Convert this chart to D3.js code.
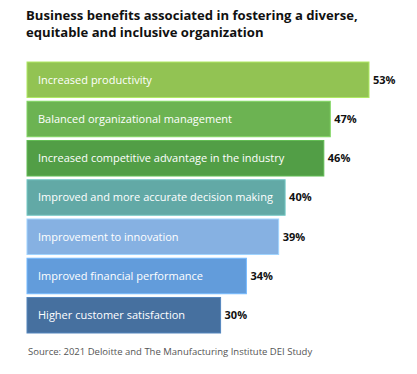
<!DOCTYPE html>
<html>
<head>
<meta charset="utf-8">
<script src="https://cdn.jsdelivr.net/npm/d3@7"></script>
<style>
  body { margin: 0; background: #fff; }
  svg { font-family: "Open Sans", sans-serif; }
</style>
</head>
<body>
<script>
var titleLines = ["Business benefits associated in fostering a diverse,",
                  "equitable and inclusive organization"]
var benefits = ["Increased productivity",
                "Balanced organizational management",
                "Increased competitive advantage in the industry",
                "Improved and more accurate decision making",
                "Improvement to innovation",
                "Improved financial performance",
                "Higher customer satisfaction"]
var shares = [53, 47, 46, 40, 39, 34, 30]
var barColors = ["#92c353", "#6cb352", "#529e46", "#62a9a6", "#86b1e2", "#629cdb", "#46709f"]
var source = "Source: 2021 Deloitte and The Manufacturing Institute DEI Study"

var w = 417
var h = 374

var svg = d3.select("body").append("svg")
   .attr("width", w)
   .attr("height", h)

// title
svg.append("g").selectAll("text")
   .data(titleLines)
   .join("text")
   .attr("x", 26)
   .attr("y", function(d, i) { return 20 + i * 17 })
   .attr("font-size", 13.1)
   .attr("font-weight", "bold")
   .attr("fill", "#111")
   .text(function(d) { return d })

var x = d3.scaleLinear().domain([0, 53]).range([27, 369])
var y = d3.scaleBand().domain(benefits).range([62, 333]).paddingInner(0.095).paddingOuter(0)

var rows = svg.append("g").selectAll("g")
   .data(benefits)
   .join("g")

rows.append("rect")
   .attr("x", x(0))
   .attr("y", function(d) { return y(d) })
   .attr("width", function(d, i) { return x(shares[i]) - x(0) })
   .attr("height", y.bandwidth())
   .attr("fill", function(d, i) { return barColors[i] })
   .attr("stroke", function(d, i) { return d3.color(barColors[i]).brighter(0.5) })
   .attr("stroke-width", 1)

rows.append("text")
   .attr("x", x(0) + 11)
   .attr("y", function(d) { return y(d) + y.bandwidth() / 2 })
   .attr("dy", "0.35em")
   .attr("font-size", 11)
   .attr("fill", "#fff")
   .text(function(d) { return d })

rows.append("text")
   .attr("x", function(d, i) { return x(shares[i]) + 4 })
   .attr("y", function(d) { return y(d) + y.bandwidth() / 2 })
   .attr("dy", "0.35em")
   .attr("font-size", 11)
   .attr("font-weight", "bold")
   .attr("fill", "#111")
   .text(function(d, i) { return shares[i] + "%" })

svg.append("text")
   .attr("x", 28)
   .attr("y", 355)
   .attr("font-size", 9.5)
   .attr("fill", "#555")
   .text(source)
</script>
</body>
</html>
